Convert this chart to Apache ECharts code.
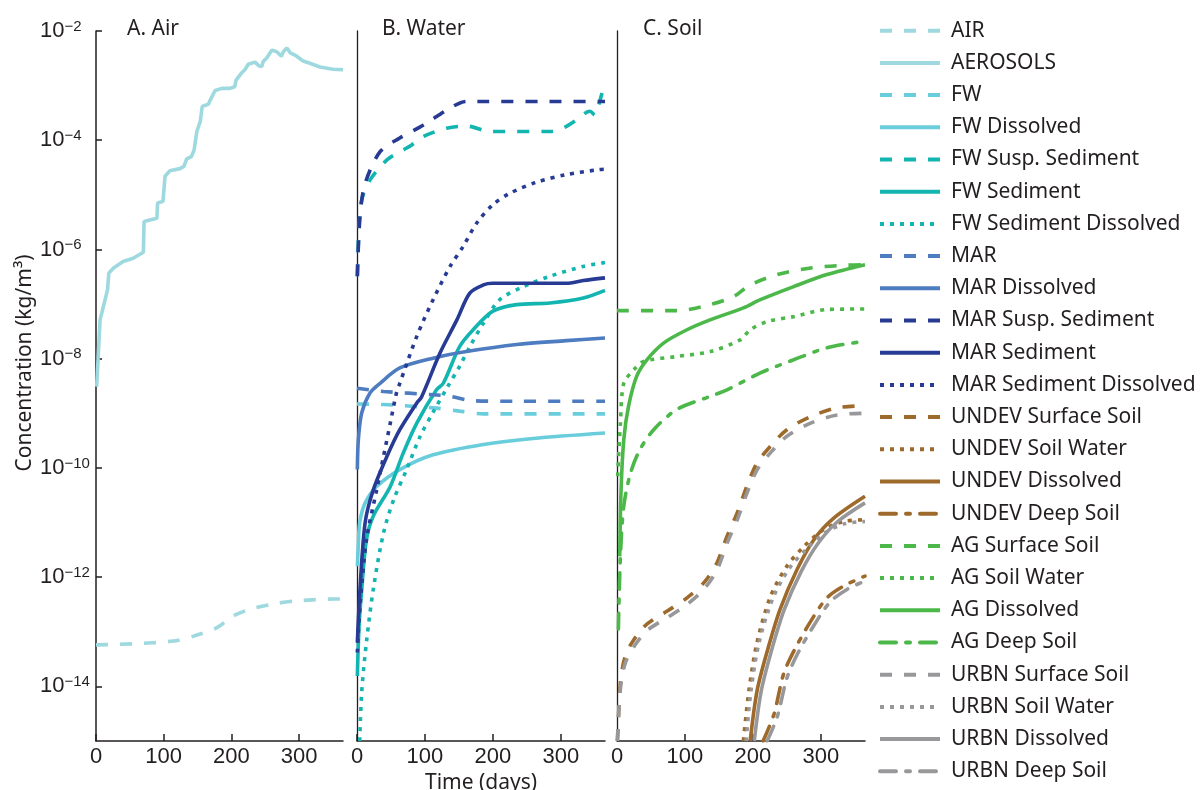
<!DOCTYPE html>
<html><head><meta charset="utf-8">
<script src="https://cdn.jsdelivr.net/npm/echarts@6/dist/echarts.min.js"></script>
<style>html,body{margin:0;padding:0;background:#fff}#c{width:1203px;height:790px}</style>
</head><body><div id="c"></div>
<script>
// ---- text ----
const panelTitles = ['A. Air', 'B. Water', 'C. Soil'];
const seriesNames = ['AIR','AEROSOLS','FW','FW Dissolved','FW Susp. Sediment','FW Sediment','FW Sediment Dissolved',
  'MAR','MAR Dissolved','MAR Susp. Sediment','MAR Sediment','MAR Sediment Dissolved',
  'UNDEV Surface Soil','UNDEV Soil Water','UNDEV Dissolved','UNDEV Deep Soil',
  'AG Surface Soil','AG Soil Water','AG Dissolved','AG Deep Soil',
  'URBN Surface Soil','URBN Soil Water','URBN Dissolved','URBN Deep Soil'];
const xTicks = [0, 100, 200, 300];
const yTickExponents = [-14, -12, -10, -8, -6, -4, -2];

// ---- data: [time (days), log10 concentration (kg/m3)] ----
const air = [[0,-13.24],[55,-13.22],[114,-13.17],[144,-13.08],[178,-12.93],[203,-12.71],[227,-12.59],[267,-12.48],[301,-12.43],[353,-12.40],[365,-12.40]];
const aerosols = [[1,-8.51],[6,-7.29],[11,-7.04],[17,-6.74],[19,-6.43],[26,-6.34],[40,-6.22],[55,-6.16],[70,-6.05],[71,-5.49],[90,-5.43],[91,-5.15],[99,-5.12],[102,-4.66],[109,-4.56],[124,-4.52],[130,-4.48],[134,-4.34],[141,-4.30],[145,-4.18],[149,-3.84],[154,-3.66],[157,-3.38],[166,-3.34],[169,-3.26],[176,-3.09],[186,-3.05],[187,-3.02],[198,-3.05],[205,-3.02],[207,-2.90],[215,-2.77],[220,-2.71],[225,-2.61],[235,-2.57],[241,-2.64],[245,-2.65],[247,-2.56],[252,-2.50],[260,-2.35],[267,-2.38],[274,-2.46],[277,-2.38],[282,-2.31],[287,-2.40],[294,-2.44],[306,-2.55],[316,-2.59],[331,-2.66],[350,-2.70],[365,-2.71]];

const fw = [[0,-8.83],[39,-8.84],[112,-8.90],[151,-8.96],[186,-9.01],[365,-9.01]];
const fwDissolved = [[0.5,-11.80],[2,-11.4],[4,-11.0],[12,-10.64],[29,-10.34],[63,-10.03],[112,-9.76],[186,-9.57],[259,-9.46],[365,-9.36]];
const fwSusp = [[0.5,-6.49],[3,-5.6],[7,-5.09],[19,-4.73],[44,-4.36],[68,-4.18],[80,-4.09],[98,-3.93],[132,-3.78],[161,-3.74],[196,-3.84],[284,-3.84],[303,-3.78],[323,-3.63],[335,-3.51],[343,-3.47],[350,-3.54],[357,-3.30],[362,-3.08],[365,-3.02]];
const fwSed = [[0.5,-13.81],[3,-12.9],[7,-12.22],[14,-11.31],[24,-10.88],[49,-10.34],[68,-9.73],[88,-9.18],[117,-8.57],[127,-8.45],[151,-7.78],[171,-7.47],[200,-7.13],[235,-7.01],[284,-6.98],[333,-6.89],[365,-6.75]];
const fwSedDissolved = [[4,-15],[7,-14.09],[14,-13.18],[24,-12.22],[39,-11.19],[54,-10.58],[73,-10.03],[93,-9.42],[112,-8.98],[134,-8.50],[151,-8.14],[166,-7.78],[186,-7.35],[210,-6.92],[245,-6.68],[284,-6.49],[333,-6.31],[365,-6.24]];
const mar = [[0,-8.54],[39,-8.60],[112,-8.66],[137,-8.69],[171,-8.77],[235,-8.78],[365,-8.78]];
const marDissolved = [[0.5,-10.03],[2,-9.48],[7,-8.99],[19,-8.63],[34,-8.45],[63,-8.17],[112,-7.99],[161,-7.87],[235,-7.74],[308,-7.67],[365,-7.62]];
const marSusp = [[0.5,-6.49],[4.4,-5.40],[12,-4.79],[34,-4.21],[63,-3.96],[98,-3.72],[137,-3.41],[161,-3.29],[365,-3.29]];
const marSed = [[0.5,-13.20],[4.4,-12.22],[12,-11.0],[24,-10.40],[44,-9.79],[63,-9.30],[88,-8.81],[95,-8.70],[122,-7.90],[147,-7.29],[166,-6.80],[186,-6.65],[200,-6.62],[308,-6.62],[333,-6.57],[365,-6.52]];
const marSedDissolved = [[0.5,-13.38],[4.4,-12.53],[14,-11.31],[29,-10.40],[39,-9.79],[49,-9.18],[58,-8.63],[63,-8.45],[88,-7.59],[112,-6.92],[137,-6.31],[156,-5.95],[176,-5.52],[200,-5.18],[225,-4.97],[264,-4.77],[308,-4.63],[355,-4.54],[365,-4.53]];

const undevSurface = [[0.5,-15],[1,-14.91],[5,-13.93],[12,-13.45],[25,-13.14],[44,-12.86],[74,-12.62],[103,-12.38],[128,-12.10],[147,-11.74],[162,-11.25],[177,-10.82],[191,-10.34],[206,-9.91],[226,-9.60],[250,-9.30],[285,-9.06],[324,-8.90],[365,-8.86]];
const undevSoilWater = [[186,-15],[194,-14.09],[206,-13.2],[226,-12.35],[250,-11.80],[275,-11.44],[304,-11.13],[334,-10.98],[365,-10.95]];
const undevDissolved = [[196,-15],[206,-14.09],[221,-13.36],[240,-12.59],[265,-11.86],[290,-11.31],[319,-10.92],[365,-10.52]];
const undevDeep = [[215,-15],[231,-14.51],[245,-13.78],[260,-13.36],[285,-12.81],[309,-12.38],[334,-12.16],[365,-11.98]];
const agSurface = [[0,-7.12],[88,-7.12],[137,-7.01],[172,-6.86],[196,-6.65],[236,-6.46],[285,-6.34],[334,-6.29],[365,-6.28]];
const agSoilWater = [[1,-10.15],[5,-9.18],[10,-8.45],[25,-8.20],[39,-8.05],[88,-7.96],[137,-7.87],[182,-7.65],[196,-7.47],[221,-7.32],[260,-7.23],[309,-7.10],[365,-7.09]];
const agDissolved = [[4,-11.62],[6,-10.40],[10,-9.48],[17,-8.87],[29,-8.32],[44,-8.02],[69,-7.71],[103,-7.47],[137,-7.29],[186,-7.07],[211,-6.92],[260,-6.68],[309,-6.46],[365,-6.28]];
const agDeep = [[2,-12.95],[5,-11.62],[10,-10.70],[20,-10.09],[34,-9.66],[54,-9.30],[88,-8.93],[137,-8.69],[162,-8.57],[211,-8.26],[260,-8.02],[309,-7.80],[365,-7.68]];
const urbnSurface = [[0.5,-15],[5,-14.05],[12,-13.58],[25,-13.27],[44,-12.98],[74,-12.74],[103,-12.50],[128,-12.22],[147,-11.87],[162,-11.38],[177,-10.95],[191,-10.47],[206,-10.04],[226,-9.72],[250,-9.42],[285,-9.18],[324,-9.03],[365,-9.00]];
const urbnSoilWater = [[190,-15],[197,-14.1],[209,-13.2],[229,-12.4],[253,-11.85],[278,-11.5],[307,-11.18],[336,-11.02],[365,-10.98]];
const urbnDissolved = [[202,-15],[212,-14.1],[227,-13.36],[246,-12.6],[271,-11.9],[296,-11.38],[324,-10.99],[365,-10.64]];
const urbnDeep = [[221,-15],[236,-14.55],[250,-13.85],[265,-13.42],[290,-12.88],[314,-12.45],[339,-12.22],[365,-12.07]];

const seriesData = [air, aerosols, fw, fwDissolved, fwSusp, fwSed, fwSedDissolved,
  mar, marDissolved, marSusp, marSed, marSedDissolved,
  undevSurface, undevSoilWater, undevDissolved, undevDeep,
  agSurface, agSoilWater, agDissolved, agDeep,
  urbnSurface, urbnSoilWater, urbnDissolved, urbnDeep];

// ---- styles ----
const C = {air:'#9DD9DE', fw:'#6ACDDC', fws:'#13B5B1', mar:'#4E7CC1', mars:'#273A94', undev:'#9E6A2C', ag:'#4CB849', urbn:'#98989B'};
const DASH = [12, 12], DOT = [4, 6], DASHDOT = [16, 10, 4, 10];
const styleTable = [
  [0, C.air, DASH], [0, C.air, 'solid'],
  [1, C.fw, DASH], [1, C.fw, 'solid'],
  [1, C.fws, DASH], [1, C.fws, 'solid'], [1, C.fws, DOT],
  [1, C.mar, DASH], [1, C.mar, 'solid'],
  [1, C.mars, DASH], [1, C.mars, 'solid'], [1, C.mars, DOT],
  [2, C.undev, DASH], [2, C.undev, DOT], [2, C.undev, 'solid'], [2, C.undev, DASHDOT],
  [2, C.ag, DASH], [2, C.ag, DOT], [2, C.ag, 'solid'], [2, C.ag, DASHDOT],
  [2, C.urbn, DASH], [2, C.urbn, DOT], [2, C.urbn, 'solid'], [2, C.urbn, DASHDOT]
];

const INK = '#231F20';
const SANS = '"Noto Sans", sans-serif';
const HELV = '"Liberation Sans", Arial, sans-serif';

const series = seriesNames.map((name, i) => {
  const [panel, color, type] = styleTable[i];
  const jagged = name === 'AEROSOLS';
  return {
    name, type: 'line', data: seriesData[i], xAxisIndex: panel, yAxisIndex: panel,
    symbol: 'none', showSymbol: false, clip: true,
    smooth: jagged ? false : 0.3,
    lineStyle: {color, width: 3.6, type, cap: type === DASHDOT ? 'round' : 'butt'},
    itemStyle: {color},
    emphasis: {disabled: true}
  };
});

const gridBoxes = [{left: 96, width: 247}, {left: 357, width: 248}, {left: 617, width: 248}];
const grid = gridBoxes.map(g => ({left: g.left, width: g.width, top: 31, height: 710, containLabel: false, outerBoundsMode: 'none'}));

const xAxis = [0, 1, 2].map(i => ({
  type: 'value', gridIndex: i, min: 0, max: 365,
  axisLine: {show: true, onZero: false, lineStyle: {color: INK, width: 1.5}},
  axisTick: {show: true, inside: true, length: 7, customValues: xTicks, lineStyle: {color: INK, width: 1.5}},
  axisLabel: {show: true, customValues: xTicks, margin: 5, color: INK, fontSize: 22, fontFamily: HELV},
  splitLine: {show: false},
  name: i === 1 ? 'Time (days)' : '', nameLocation: 'middle', nameGap: 24,
  nameTextStyle: {color: INK, fontSize: 21, fontFamily: SANS}
}));

const yAxis = [0, 1, 2].map(i => ({
  type: 'value', gridIndex: i, min: -15, max: -2,
  axisLine: {show: true, onZero: false, lineStyle: {color: INK, width: i === 0 ? 1.5 : 1.3}},
  axisTick: {show: i === 0, inside: true, length: 6, customValues: yTickExponents, lineStyle: {color: INK, width: 1.5}},
  axisLabel: {
    show: i === 0, customValues: yTickExponents, align: 'left', margin: 56,
    formatter: v => '{b|10}{s|\u2212' + Math.abs(v) + '}',
    rich: {
      b: {fontSize: 22, fontFamily: HELV, color: INK, lineHeight: 24},
      s: {fontSize: 15, fontFamily: HELV, color: INK, lineHeight: 12, verticalAlign: 'top'}
    }
  },
  splitLine: {show: false},
  name: i === 0 ? 'Concentration (kg/m\u00B3)' : '', nameLocation: 'middle', nameRotate: 90, nameGap: 60,
  nameTextStyle: {color: INK, fontSize: 21, fontFamily: SANS, padding: [0, 0, 0, 46]}
}));

const titleLefts = [127, 382, 643];
const title = panelTitles.map((t, i) => ({
  text: t, left: titleLefts[i], top: 19, padding: 0,
  textStyle: {color: INK, fontSize: 21, fontWeight: 'normal', fontFamily: SANS}
}));

const chart = echarts.init(document.getElementById('c'), null, {renderer: 'canvas', width: 1203, height: 790});
chart.setOption({
  animation: false,
  backgroundColor: '#fff',
  title,
  grid, xAxis, yAxis,
  legend: {
    data: seriesNames, orient: 'vertical', left: 878, top: 19.7, padding: 0,
    itemWidth: 60, itemHeight: 14, itemGap: 10.2, selectedMode: false,
    itemStyle: {color: 'rgba(0,0,0,0)', borderWidth: 0, opacity: 0},
    lineStyle: {width: 4},
    textStyle: {color: INK, fontSize: 21, fontFamily: SANS, lineHeight: 22, padding: [0, 0, 0, 6]}
  },
  series
});
</script>
</body></html>
